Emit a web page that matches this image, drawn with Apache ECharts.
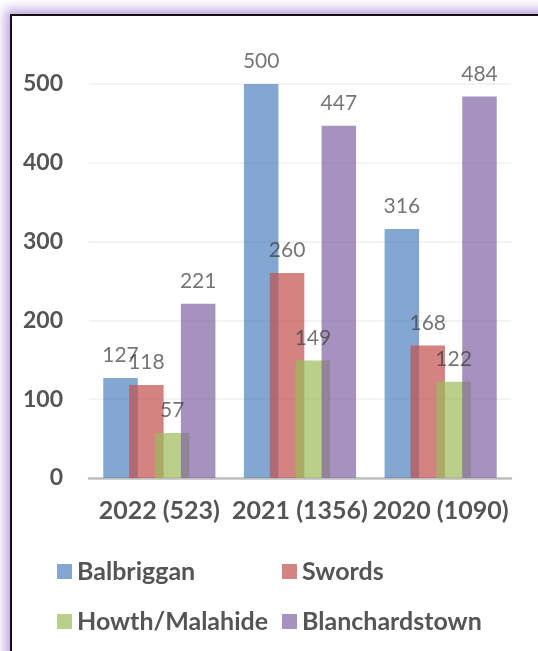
<!DOCTYPE html>
<html>
<head>
<meta charset="utf-8">
<script src="https://cdn.jsdelivr.net/npm/echarts@6/dist/echarts.min.js"></script>
<style>
  html, body { margin: 0; padding: 0; background: #fff; overflow: hidden; }
  .frame {
    position: absolute; left: 10px; top: 14px; width: 620px; height: 720px;
    border-left: 2px solid #111; border-top: 2px solid #111;
    box-shadow: -2px -2px 10px 3px rgba(170, 140, 215, 0.75);
  }
  #chart { position: absolute; left: 0; top: 0; width: 538px; height: 651px; }
</style>
</head>
<body>
<div class="frame"></div>
<div id="chart"></div>
<script>
// 年份分类
const categories = ['2022 (523)', '2021 (1356)', '2020 (1090)'];
const balbriggan = [127, 500, 316];
const swords = [118, 260, 168];
const howthMalahide = [57, 149, 122];
const blanchardstown = [221, 447, 484];
const yTicks = [0, 100, 200, 300, 400, 500];

const font = 'Lato, "Open Sans", sans-serif';
const chart = echarts.init(document.getElementById('chart'));

const makeSeries = (name, data, color) => ({
  name: name,
  type: 'bar',
  data: data,
  barWidth: 34.5,
  barGap: '-25%',
  itemStyle: { color: color, opacity: 0.7 },
  label: {
    show: true,
    position: 'top',
    distance: 12,
    color: '#3a3a3a',
    fontSize: 21,
    fontFamily: font,
  },
});

chart.setOption({
  animation: false,
  grid: { left: 89, right: 27, top: 84, bottom: 173 },
  xAxis: {
    type: 'category',
    data: categories,
    axisLine: { lineStyle: { color: '#bfbfbf', width: 2.5 } },
    axisTick: { show: false },
    axisLabel: {
      color: '#555555', fontWeight: 'bold', fontSize: 25, fontFamily: font, margin: 20,
      interval: 0,
    },
  },
  yAxis: {
    type: 'value',
    min: yTicks[0],
    max: yTicks[yTicks.length - 1],
    interval: 100,
    axisLine: { show: false },
    axisTick: { show: false },
    splitLine: { lineStyle: { color: '#efefef', width: 1.5 } },
    axisLabel: { color: '#555555', fontWeight: 'bold', fontSize: 23, fontFamily: font, margin: 26 },
  },
  legend: [
    {
      orient: 'vertical', left: 52, top: 554, itemGap: 25,
      itemWidth: 15, itemHeight: 15, icon: 'rect',
      data: ['Balbriggan', 'Howth/Malahide'],
      textStyle: { color: '#555555', fontWeight: 'bold', fontSize: 25, fontFamily: font },
    },
    {
      orient: 'vertical', left: 277, top: 554, itemGap: 25,
      itemWidth: 15, itemHeight: 15, icon: 'rect',
      data: ['Swords', 'Blanchardstown'],
      textStyle: { color: '#555555', fontWeight: 'bold', fontSize: 25, fontFamily: font },
    },
  ],
  series: [
    makeSeries('Balbriggan', balbriggan, '#4F81BD'),
    makeSeries('Swords', swords, '#C0504D'),
    makeSeries('Howth/Malahide', howthMalahide, '#9BBB59'),
    makeSeries('Blanchardstown', blanchardstown, '#8064A2'),
  ],
});
</script>
</body>
</html>
